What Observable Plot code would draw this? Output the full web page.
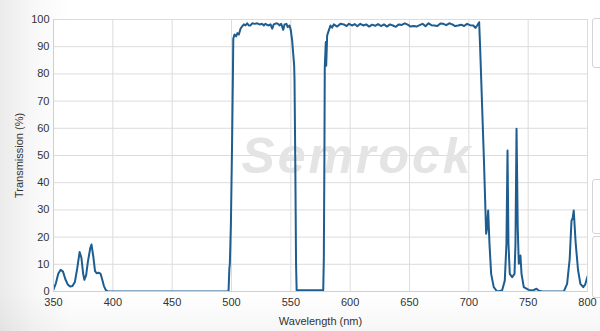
<!DOCTYPE html>
<html>
<head>
<meta charset="utf-8">
<script src="https://cdn.jsdelivr.net/npm/d3@7"></script>
<script src="https://cdn.jsdelivr.net/npm/@observablehq/plot@0.6"></script>
<style>
  html, body { margin: 0; padding: 0; }
  body {
    width: 600px; height: 331px; overflow: hidden; position: relative;
    background:
      linear-gradient(to bottom, rgba(255,255,255,0) 88%, rgba(0,0,0,0.035) 100%),
      linear-gradient(to right, #ebebeb 0px, #f8f8f8 35px, #ffffff 70px);
    font-family: "Liberation Sans", Arial, sans-serif;
  }
  #chart { position: absolute; left: 0; top: 0; }
  .box { position: absolute; left: 592px; width: 20px; background: #fff; border: 1px solid #d4d4d4; border-radius: 3px; }
  .wm text { letter-spacing: 3px; }
</style>
</head>
<body>
<div id="chart"></div>
<div class="box" style="top:18px;height:48px"></div>
<div class="box" style="top:179px;height:53px"></div>
<div class="box" style="top:236px;height:60px"></div>
<script>
const wavelength = [
  350, 352, 354, 356, 358, 360, 362, 364, 366, 368, 370, 372, 373.5, 375, 376, 377.5, 379, 381, 382, 383.5,
  385, 386.5, 388, 389.6, 391, 392.5, 394, 395.5, 400, 450, 497.5, 498.2, 498.6, 499.5, 500.5, 501.2,
  501.5, 502.5, 503.9, 505, 506.2, 507.6, 509, 510.4, 511.8, 513.2, 514.6, 516, 517.5, 519.6, 521.6, 523.6,
  525.9, 527.2, 528.7, 530.9, 532.9, 534.3, 535.6, 537.7, 539.3, 540.4, 541.9, 543.6, 544.7, 546.3, 547.4,
  548.9, 550, 551.1, 552, 552.8, 553.1, 553.8, 554.4, 554.9, 577.3, 577.8, 578.3, 578.6, 579.5, 579.8,
  580.6, 582, 583.4, 584.8, 586.2, 589, 591.8, 594.6, 597, 599, 601.5, 604, 606, 608.5, 611, 613.5, 616,
  618.5, 621, 623.5, 626, 628.5, 631, 633.5, 636, 638.5, 641, 643.5, 646, 648.5, 651, 653.5, 656, 658.5,
  661, 663.5, 666, 668.5, 671, 673.5, 676, 678.5, 681, 683.5, 686, 688.5, 691, 693.5, 696, 698.5, 701,
  703.8, 705.6, 707, 708.7, 709.5, 712.6, 714.6, 715.3, 716.3, 717.4, 718.8, 721, 723.9, 728, 730.3,
  731.7, 732.6, 733.4, 734.5, 736.5, 738.5, 739.3, 740.2, 741.2, 742.1, 743.5, 744.4, 746.3, 750.5, 754,
  757, 759, 762, 780, 782.8, 785, 786.5, 787.5, 788.4, 790, 792, 794, 796.4, 798, 800
];
const transmission = [
  0.8, 3, 6.5, 8.0, 7.3, 4.5, 2.6, 1.8, 2.0, 3.5, 8.5, 14.5, 12.5, 6.5, 4.3, 6, 11, 16, 17.3, 13,
  7.5, 6.7, 6.9, 6.6, 4.5, 2, 0.6, 0.1, 0, 0, 0, 8.5, 10, 25, 55, 80,
  92.9, 94.5, 93.8, 95, 94.5, 96.6, 97.5, 98.2, 97.8, 98.6, 97.8, 97.8, 98.6, 98.4, 98.6, 98.2,
  98.4, 97.8, 98.4, 97.8, 98.2, 96.6, 98.2, 98.6, 98.4, 97.8, 98.4, 96.2, 98.2, 98.4, 97.2,
  97.8, 96, 92.3, 87.4, 83.1, 78, 45, 10, 0.5, 0.5, 12, 50, 82.5, 91.7, 83,
  94.1, 96, 97.8, 97, 98.2, 97.4, 98.4, 98.2, 97.6, 98.4, 97.8, 98.3, 97.5, 98.4, 97.8, 98.2, 97.4,
  98.1, 97.7, 98.3, 97.6, 98.2, 97.4, 98.2, 97.8, 97.3, 98.2, 98.0, 98.6, 98.1, 97.4, 97.6, 97.4, 97.9,
  98.4, 97.5, 98.6, 97.9, 97.8, 97.6, 98.5, 98.4, 97.9, 98.6, 98.2, 97.6, 97.8, 98.1, 97.6, 98.4, 97.9,
  97.8, 96.9, 97.8, 99, 90, 50, 21.2, 23, 29.8, 17.5, 6.5, 1.6, 0, 0.4, 4,
  17.6, 51.8, 17.6, 6.5, 5.3, 6.5, 17.6, 59.8, 23.6, 10.2, 13.2, 6.5, 1.6, 0.6, 0.4,
  1, 0.3, 0, 0, 2.8, 12, 26, 27, 29.8, 18, 8, 2.8, 1.6, 2.5, 5.5
];
const xTicks = [350, 400, 450, 500, 550, 600, 650, 700, 750, 800];
const yTicks = [0, 10, 20, 30, 40, 50, 60, 70, 80, 90, 100];
const watermark = ["Semrock"];

const data = wavelength.map((w, i) => ({w, t: transmission[i]}));

const chart = Plot.plot({
  width: 600,
  height: 331,
  marginLeft: 53,
  marginRight: 13,
  marginTop: 19,
  marginBottom: 40,
  style: {background: "transparent", fontFamily: "'Liberation Sans', Arial, sans-serif", fontSize: "11px", color: "#333"},
  x: {domain: [350, 800], ticks: xTicks, tickSize: 0, tickPadding: 7, label: "Wavelength (nm)", labelAnchor: "center", labelOffset: 33, labelArrow: "none"},
  y: {domain: [0, 100], ticks: yTicks, tickSize: 0, tickPadding: 4, label: "Transmission (%)", labelAnchor: "center", labelOffset: 38, labelArrow: "none"},
  marks: [
    Plot.frame({fill: "white", stroke: "#d8d8d8"}),
    Plot.gridX(xTicks, {stroke: "#dcdcdc", strokeOpacity: 1, strokeWidth: 1}),
    Plot.gridY(yTicks, {stroke: "#dcdcdc", strokeOpacity: 1, strokeWidth: 1}),
    Plot.text(watermark, {frameAnchor: "middle", dx: 37, dy: 1, text: d => d, fontSize: 50, fontWeight: "bold", fontStyle: "italic", fill: "#e4e4e4", fontFamily: "'Liberation Sans', Arial, sans-serif", className: "wm"}),
    Plot.line(data, {x: "w", y: "t", stroke: "#1d5d8f", strokeWidth: 2, clip: true}),
    Plot.ruleX([350], {stroke: "#cfcfcf"}),
    Plot.ruleY([0], {stroke: "#cfcfcf"})
  ]
});
document.getElementById("chart").appendChild(chart);
</script>
</body>
</html>
